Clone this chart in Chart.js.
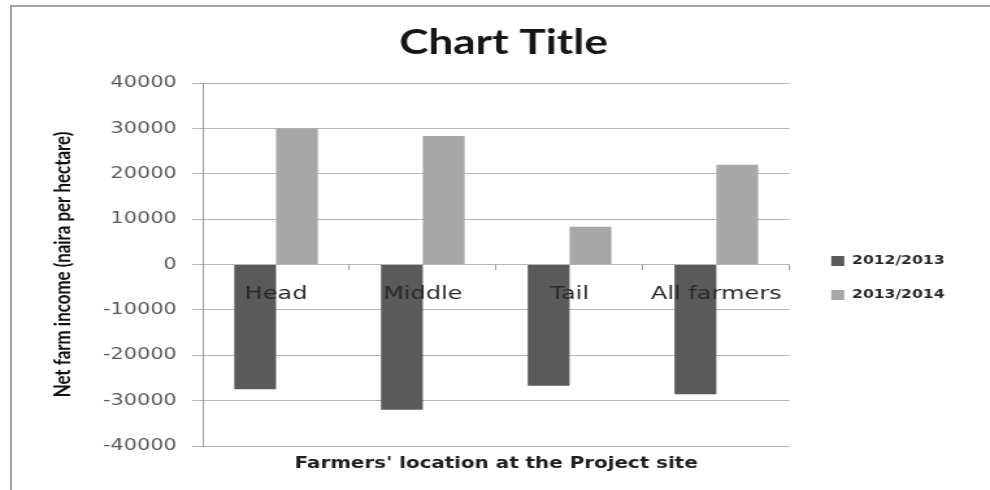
<!DOCTYPE html>
<html>
<head>
<meta charset="utf-8">
<title>Net farm income</title>
<script src="https://cdn.jsdelivr.net/npm/chart.js@4.4.1/dist/chart.umd.min.js"></script>
<style>
  html, body { margin: 0; padding: 0; background: #fff; }
  body { width: 990px; height: 490px; overflow: hidden; position: relative; }
  #frame { position: absolute; left: 10px; top: 5px; width: 990px; height: 500px;
           border-left: 2px solid #a3a3a3; border-top: 2px solid #a3a3a3; }
  /* the chart is laid out narrow and widened sideways */
  #wrap { position: absolute; left: 0; top: 0; width: 762px; height: 490px;
          transform: scaleX(1.2992); transform-origin: 0 0; }
</style>
</head>
<body>
<div id="frame"></div>
<div id="wrap"><canvas id="myChart" width="762" height="490"></canvas></div>
<script>
var locations = ["Head", "Middle", "Tail", "All farmers"];
var income2012 = [-27500, -32000, -26700, -28600];
var income2013 = [30000, 28300, 8300, 22000];
var seasons = ["2012/2013", "2013/2014"];

var yMin = -40000;
var yMax = 40000;
var yStep = 10000;

var ctx = document.getElementById('myChart').getContext('2d');

var chart = new Chart(ctx, {
    type: 'bar',
    data: {
        labels: locations,
        datasets: [
            {
                label: seasons[0],
                data: income2012,
                backgroundColor: "#5a5a5a",
                categoryPercentage: 0.57,
                barPercentage: 1
            },
            {
                label: seasons[1],
                data: income2013,
                backgroundColor: "#a7a7a7",
                categoryPercentage: 0.57,
                barPercentage: 1
            }
        ]
    },
    options: {
        responsive: false,
        animation: false,
        layout: { padding: { left: 38, right: 25, top: 0, bottom: 0 } },
        plugins: {
            title: {
                display: true,
                text: "Chart Title",
                color: "#161616",
                font: { family: "Lato", size: 34, weight: "bold" },
                padding: { top: 22.6, bottom: 19.6 }
            },
            legend: {
                position: 'right',
                fullSize: false,
                maxWidth: 200,
                title: {
                    display: true,
                    text: "",
                    font: { size: 12 },
                    padding: { top: 6, bottom: 6.6 }
                },
                labels: {
                    boxWidth: 10,
                    boxHeight: 10,
                    padding: 22,
                    color: "#262626",
                    font: { family: "'DejaVu Sans'", size: 12, weight: "bold" }
                }
            },
            tooltip: { enabled: false }
        },
        scales: {
            x: {
                position: 'bottom',
                ticks: { display: false },
                grid: { display: false },
                border: { display: false },
                title: {
                    display: true,
                    text: "Farmers' location at the Project site",
                    color: "#1e1e1e",
                    font: { family: "'DejaVu Sans'", size: 15.3, weight: "bold" },
                    padding: { top: 0, bottom: 17 }
                },
                afterFit: function(scale) { scale.height = 44; }
            },
            // category names sit on the zero line, drawn over the bars
            xZero: {
                type: 'category',
                position: { y: 0 },
                offset: true,
                grid: {
                    offset: true,
                    drawOnChartArea: false,
                    drawTicks: true,
                    tickLength: 5,
                    color: "#9a9a9a"
                },
                border: { display: false },
                ticks: {
                    z: 1,
                    padding: 14,
                    color: "#2a2a2a",
                    maxRotation: 0,
                    autoSkip: false,
                    font: { family: "'DejaVu Sans'", size: 18.5 }
                }
            },
            y: {
                position: 'left',
                min: yMin,
                max: yMax,
                ticks: {
                    stepSize: yStep,
                    padding: 12,
                    color: "#595959",
                    font: { family: "'DejaVu Sans'", size: 16 },
                    callback: function(value) { return String(value); }
                },
                grid: {
                    color: "#b5b5b5",
                    lineWidth: 1,
                    tickLength: 8
                },
                border: { display: true, color: "#9a9a9a" },
                title: {
                    display: true,
                    text: "Net farm income (naira per hectare)",
                    color: "#111111",
                    font: { family: "Lato", size: 16.9, weight: "bold" },
                    padding: { top: 0, bottom: 0 }
                },
                afterFit: function(scale) { scale.width = 118; }
            },
            // empty strip between plot and legend
            gap: {
                type: 'linear',
                position: 'right',
                ticks: { display: false },
                grid: { display: false },
                border: { display: false },
                afterFit: function(scale) { scale.width = 10; }
            }
        }
    }
});
</script>
</body>
</html>
